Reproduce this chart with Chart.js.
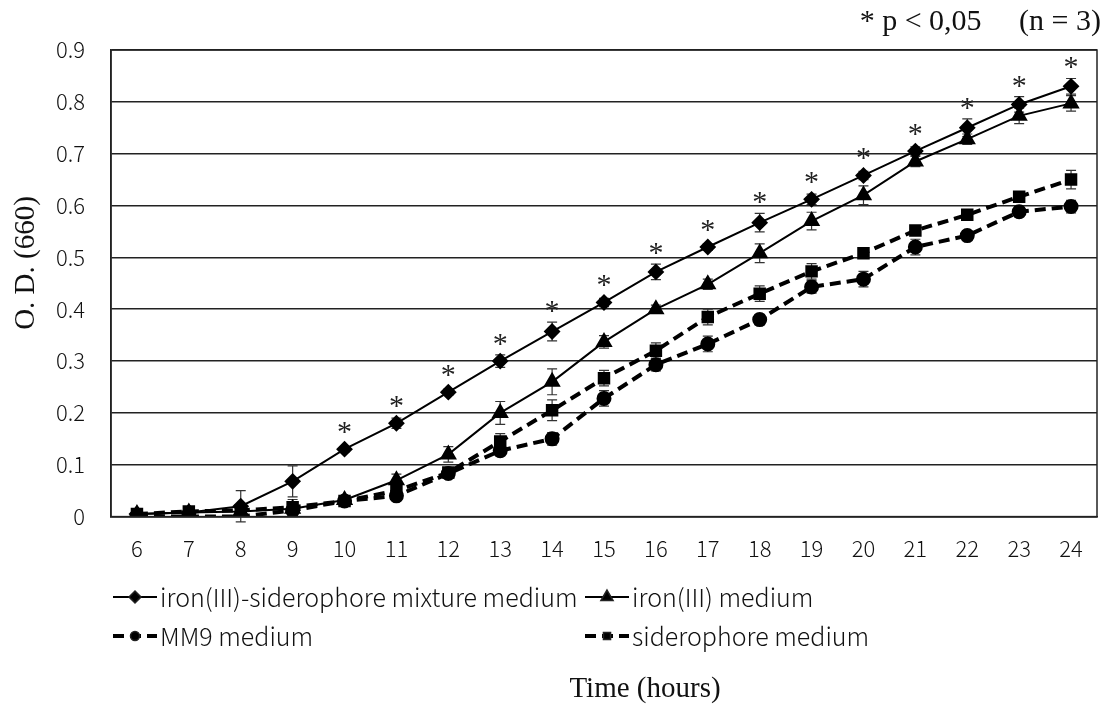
<!DOCTYPE html>
<html>
<head>
<meta charset="utf-8">
<script src="https://cdn.jsdelivr.net/npm/chart.js@4.4.1/dist/chart.umd.min.js"></script>
<style>
  html, body { margin: 0; padding: 0; background: #fff; }
  #wrap { width: 1107px; height: 709px; }
</style>
</head>
<body>
<div id="wrap"><canvas id="growthChart" width="1107" height="709"></canvas></div>
<script>
// 培養時間 (hours)
const hours = ['6', '7', '8', '9', '10', '11', '12', '13', '14', '15', '16', '17', '18', '19', '20', '21', '22', '23', '24'];

// O.D.(660) 平均値
const mixture = [0.005, 0.008, 0.02, 0.068, 0.13, 0.18, 0.24, 0.30, 0.357, 0.413, 0.472, 0.52, 0.567, 0.612, 0.658, 0.705, 0.75, 0.795, 0.83];
const ironOnly = [0.005, 0.008, 0.01, 0.015, 0.032, 0.07, 0.12, 0.20, 0.26, 0.337, 0.40, 0.448, 0.508, 0.57, 0.62, 0.685, 0.728, 0.773, 0.797];
const mm9 = [0.0, 0.0, 0.0, 0.012, 0.03, 0.04, 0.083, 0.127, 0.15, 0.228, 0.293, 0.333, 0.38, 0.443, 0.458, 0.52, 0.542, 0.588, 0.598];
const sidero = [0.005, 0.01, 0.012, 0.018, 0.03, 0.05, 0.085, 0.145, 0.205, 0.267, 0.32, 0.385, 0.43, 0.473, 0.508, 0.552, 0.582, 0.617, 0.65];

// 標準偏差
const mixtureErr = [0, 0, 0.03, 0.03, 0.005, 0.01, 0.006, 0.012, 0.018, 0.008, 0.015, 0.006, 0.018, 0.01, 0.008, 0.008, 0.017, 0.015, 0.015];
const ironOnlyErr = [0, 0, 0, 0, 0.005, 0.012, 0.015, 0.022, 0.025, 0.012, 0.008, 0.01, 0.018, 0.017, 0.018, 0.01, 0.01, 0.015, 0.015];
const mm9Err = [0, 0, 0, 0, 0.004, 0.006, 0.006, 0.01, 0.012, 0.015, 0.012, 0.015, 0.01, 0.012, 0.015, 0.015, 0.008, 0.01, 0.012];
const sideroErr = [0, 0, 0, 0.015, 0.004, 0.008, 0.008, 0.015, 0.02, 0.015, 0.015, 0.015, 0.015, 0.015, 0.01, 0.008, 0.01, 0.01, 0.018];

// 有意差あり (p < 0.05)
const sigHours = ['10', '11', '12', '13', '14', '15', '16', '17', '18', '19', '20', '21', '22', '23', '24'];

const labelFont = "'Noto Sans CJK JP', 'Noto Sans', sans-serif";
const serifFont = "'Liberation Serif', 'DejaVu Serif', serif";

// エラーバー
const errorBars = {
  id: 'errorBars',
  beforeDatasetsDraw(chart) {
    const { ctx, scales: { y } } = chart;
    ctx.save();
    ctx.strokeStyle = '#333';
    ctx.lineWidth = 1.2;
    chart.data.datasets.forEach((ds, di) => {
      const meta = chart.getDatasetMeta(di);
      meta.data.forEach((pt, i) => {
        const e = ds.errors[i];
        if (!e) return;
        const top = y.getPixelForValue(ds.data[i] + e);
        const bot = y.getPixelForValue(ds.data[i] - e);
        ctx.beginPath();
        ctx.moveTo(pt.x, top); ctx.lineTo(pt.x, bot);
        ctx.moveTo(pt.x - 5, top); ctx.lineTo(pt.x + 5, top);
        ctx.moveTo(pt.x - 5, bot); ctx.lineTo(pt.x + 5, bot);
        ctx.stroke();
      });
    });
    ctx.restore();
  },
};

// 有意差のアスタリスク・枠線・凡例・軸タイトル
const decorations = {
  id: 'decorations',
  afterDraw(chart) {
    const { ctx, chartArea, scales: { x, y } } = chart;
    ctx.save();

    // 枠線
    ctx.strokeStyle = '#222';
    ctx.lineWidth = 1.5;
    ctx.strokeRect(chartArea.left, chartArea.top, chartArea.right - chartArea.left, chartArea.bottom - chartArea.top);

    // アスタリスク
    ctx.fillStyle = '#222';
    ctx.font = `30px ${serifFont}`;
    ctx.textAlign = 'center';
    ctx.textBaseline = 'middle';
    sigHours.forEach((h) => {
      const i = hours.indexOf(h);
      const px = x.getPixelForValue(i);
      const top = Math.min(y.getPixelForValue(mixture[i] + mixtureErr[i]), y.getPixelForValue(mixture[i]) - 6);
      ctx.fillText('*', px, top - 10);
    });

    // 凡例
    const cols = [113, 585];
    const rows = [597, 636];
    const slots = [[0, 0], [1, 0], [0, 1], [1, 1]];
    chart.data.datasets.forEach((ds, di) => {
      const [c, r] = slots[di];
      const lx = cols[c];
      const ly = rows[r];
      ctx.save();
      ctx.strokeStyle = '#000';
      ctx.lineWidth = ds.borderWidth;
      ctx.setLineDash(ds.borderDash || []);
      ctx.beginPath();
      ctx.moveTo(lx, ly); ctx.lineTo(lx + 44, ly);
      ctx.stroke();
      ctx.restore();
      ctx.fillStyle = '#000';
      Chart.helpers.drawPoint(ctx, { pointStyle: ds.pointStyle, radius: ds.pointRadius - 1, rotation: 0, borderWidth: 1 }, lx + 22, ly);
      ctx.fillStyle = '#111';
      ctx.font = `300 25px ${labelFont}`;
      ctx.textAlign = 'left';
      ctx.textBaseline = 'middle';
      ctx.fillText(ds.label, lx + 47, ly);
    });

    // 軸タイトル
    ctx.fillStyle = '#111';
    ctx.textAlign = 'center';
    ctx.textBaseline = 'middle';
    ctx.font = `29px ${serifFont}`;
    ctx.fillText('Time (hours)', 645, 689);
    ctx.translate(26, 263);
    ctx.rotate(-Math.PI / 2);
    ctx.font = `29px ${serifFont}`;
    ctx.fillText('O. D. (660)', 0, 0);

    ctx.restore();
  },
};

function series(label, data, errors, pointStyle, radius, dashed) {
  return {
    label,
    data,
    errors,
    borderColor: '#000',
    backgroundColor: '#000',
    borderWidth: dashed ? 4 : 2,
    borderDash: dashed ? [11, 6] : [],
    pointStyle,
    pointRadius: radius,
    pointBackgroundColor: '#000',
    pointBorderColor: '#000',
    tension: 0,
  };
}

new Chart(document.getElementById('growthChart'), {
  type: 'line',
  data: {
    labels: hours,
    datasets: [
      series('iron(III)-siderophore mixture medium', mixture, mixtureErr, 'rectRot', 7, false),
      series('iron(III) medium', ironOnly, ironOnlyErr, 'triangle', 8, false),
      series('MM9 medium', mm9, mm9Err, 'circle', 5.5, true),
      series('siderophore medium', sidero, sideroErr, 'rect', 6, true),
    ],
  },
  options: {
    responsive: false,
    animation: false,
    layout: { padding: { top: 4, right: 6, left: 0, bottom: 128 } },
    plugins: {
      legend: { display: false },
      tooltip: { enabled: false },
      title: {
        display: true,
        text: '* p < 0,05     (n = 3)',
        align: 'end',
        color: '#111',
        font: { family: serifFont, size: 30, weight: 'normal' },
        padding: { top: 0, bottom: 10 },
      },
    },
    scales: {
      x: {
        offset: true,
        grid: { display: false, drawTicks: false },
        border: { color: '#222', width: 1.5 },
        ticks: { color: '#111', font: { family: labelFont, size: 22, weight: '300' }, padding: 19, maxRotation: 0, autoSkip: false },
      },
      y: {
        min: 0,
        max: 0.9,
        afterFit: (scale) => { scale.width = 111; },
        ticks: {
          stepSize: 0.1,
          color: '#111',
          font: { family: labelFont, size: 22, weight: '300' },
          padding: 26,
          callback: (v) => (v === 0 ? '0' : v.toFixed(1)),
        },
        grid: { color: '#222', lineWidth: 1.5, drawTicks: false },
        border: { color: '#222', width: 1.5 },
      },
    },
  },
  plugins: [errorBars, decorations],
});
</script>
</body>
</html>
